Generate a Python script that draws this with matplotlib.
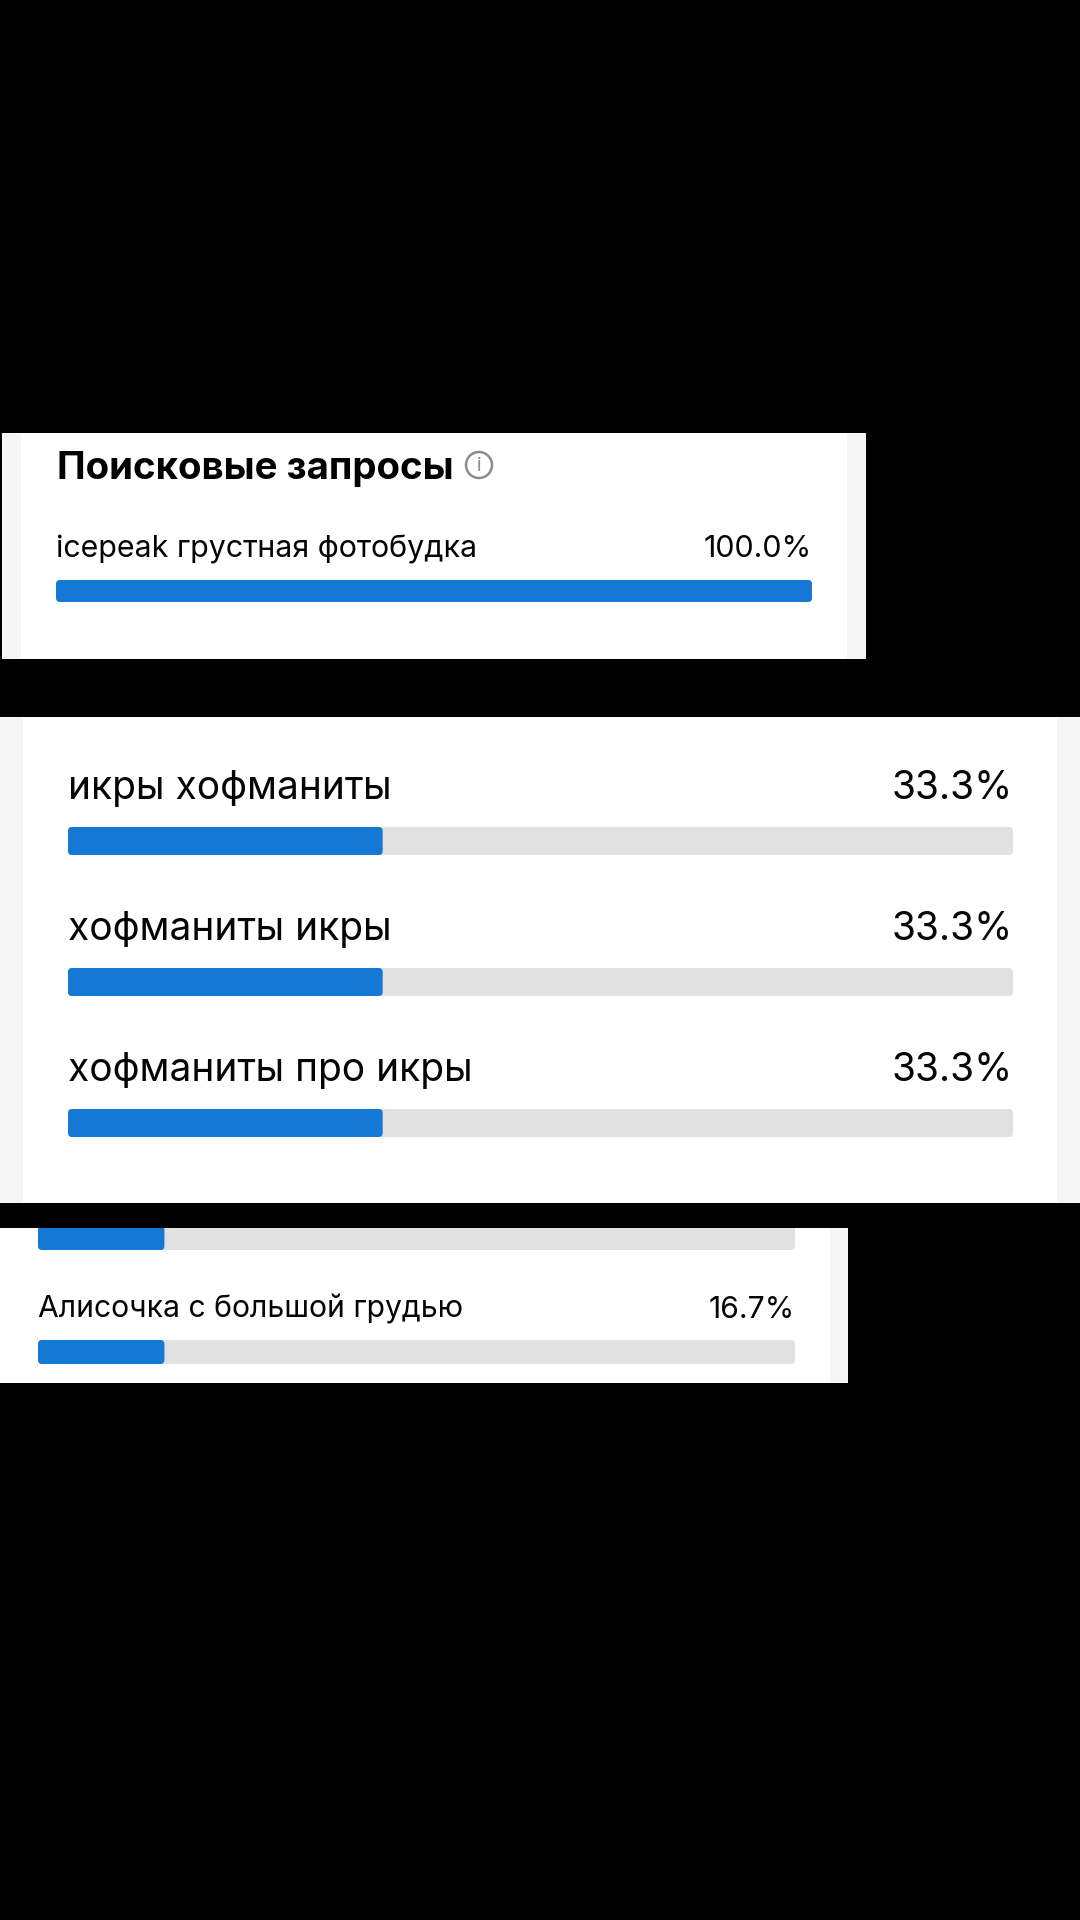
import matplotlib
matplotlib.use('Agg')
import matplotlib.pyplot as plt
from matplotlib.patches import FancyBboxPatch, Rectangle, Circle

plt.rcParams['font.family'] = ['Inter', 'DejaVu Sans']

W, H = 1080, 1920

# data
title = 'Поисковые запросы'
labels_top = ['icepeak грустная фотобудка']
values_top = [100.0]
labels_mid = ['икры хофманиты', 'хофманиты икры', 'хофманиты про икры']
values_mid = [33.3, 33.3, 33.3]
labels_bot = ['', 'Алисочка с большой грудью']
values_bot = [16.7, 16.7]

BLUE = '#1478d4'
TRACK = '#e1e1e1'
OUTER = '#f6f6f6'

fig = plt.figure(figsize=(W / 100, H / 100), dpi=100, facecolor='black')

# background layer in image pixels, for the cards and the info icon
bg = fig.add_axes([0, 0, 1, 1])
bg.set_xlim(0, W)
bg.set_ylim(H, 0)
bg.axis('off')


def panel(x0, x1, y0, y1, ix0, ix1):
    # grey outer strip with a white card on top
    bg.add_patch(Rectangle((x0, y0), x1 - x0, y1 - y0, facecolor=OUTER, edgecolor='none'))
    bg.add_patch(Rectangle((ix0, y0), ix1 - ix0, y1 - y0, facecolor='white', edgecolor='none'))


def bar_axes(x0, x1, y0, y1):
    # x is percent along the track, y stays in image pixels
    ax = fig.add_axes([x0 / W, 1 - y1 / H, (x1 - x0) / W, (y1 - y0) / H])
    ax.set_xlim(0, 100)
    ax.set_ylim(y1, y0)
    ax.axis('off')
    return ax, 100 / (x1 - x0)


def rounded(ax, top, height, value, per_px, color, radius=4):
    rx = radius * per_px
    ax.add_patch(FancyBboxPatch((rx, top + radius), value - 2 * rx, height - 2 * radius,
                                boxstyle='round,pad=%f,rounding_size=%f' % (rx, rx),
                                mutation_aspect=1 / per_px,
                                facecolor=color, edgecolor='none'))


def rows(ax, per_px, labels, values, tops, height, baselines, fs, track=True):
    for lab, val, top, base in zip(labels, values, tops, baselines):
        if track:
            rounded(ax, top, height, 100, per_px, TRACK)
        rounded(ax, top, height, val, per_px, BLUE)
        if lab:
            ax.text(0, base, lab, fontsize=fs, color='#050505', va='baseline', ha='left')
            ax.text(100, base, '%.1f%%' % val, fontsize=fs, color='#050505', va='baseline', ha='right')


# first card
panel(2, 866, 433, 659, 21, 847)
ax1, p1 = bar_axes(56, 812, 433, 659)
ax1.text(0.1, 479, title, fontsize=27.7, fontweight='bold', color='black', va='baseline')
rows(ax1, p1, labels_top, values_top, [580], 22, [557], 21.9, track=False)
bg.add_patch(Circle((479, 465), 13, facecolor='none', edgecolor='#8c8c8c', linewidth=1.8))
bg.text(479, 466, 'i', fontsize=14, color='#8c8c8c', ha='center', va='center')

# second card
panel(0, 1080, 717, 1203, 23, 1057)
ax2, p2 = bar_axes(68, 1013, 717, 1203)
rows(ax2, p2, labels_mid, values_mid, [827, 968, 1109], 28, [799, 940, 1081], 28)

# third card, cropped through the first bar
panel(0, 848, 1228, 1383, 0, 830)
ax3, p3 = bar_axes(38, 795, 1228, 1383)
rows(ax3, p3, labels_bot, values_bot, [1226, 1340], 24, [0, 1318], 21.7)

fig.savefig('out.png', dpi=100, facecolor='black')
